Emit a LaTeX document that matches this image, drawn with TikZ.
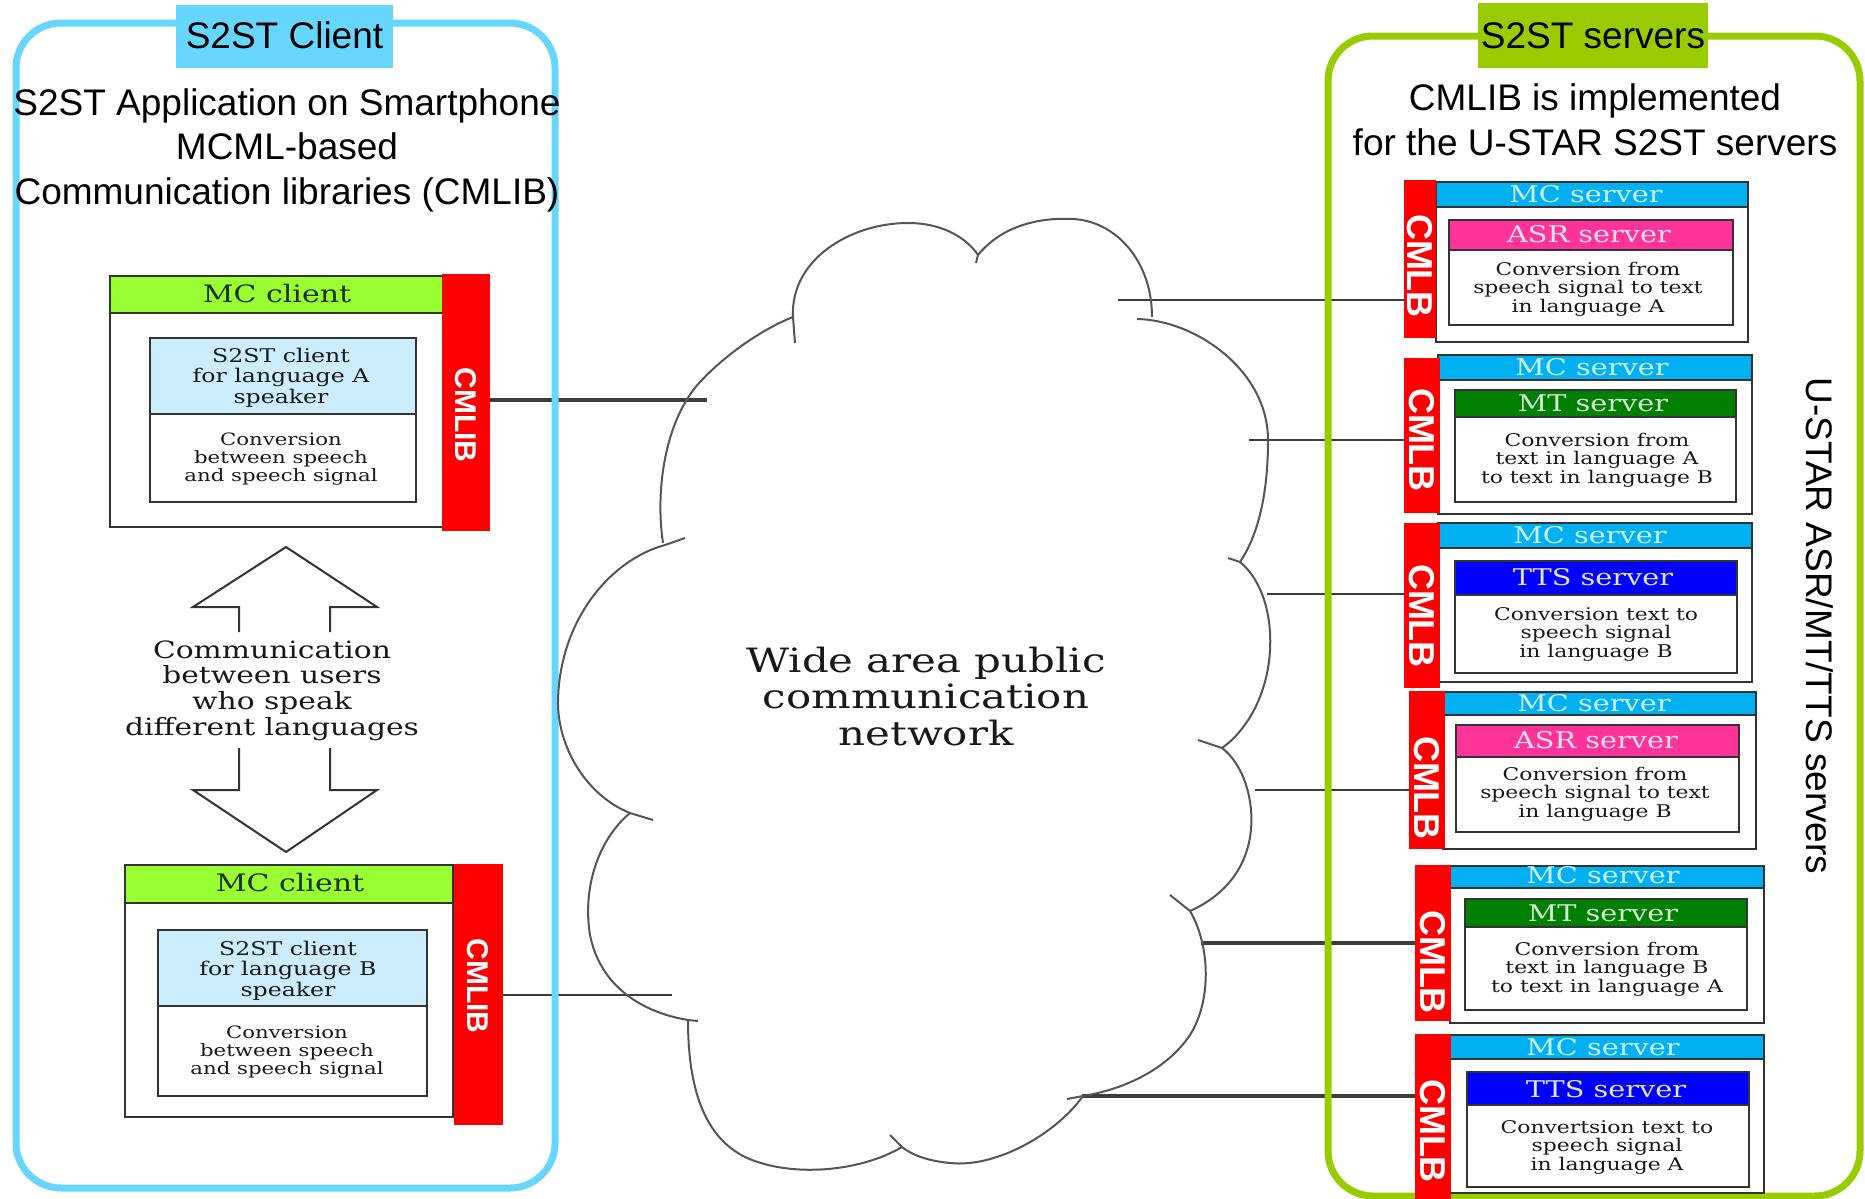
\documentclass[tikz,border=0pt]{standalone}
\usepackage{fontspec}
\setmainfont{Liberation Sans}
\newfontfamily\wser[FakeStretch=1.25]{DejaVu Serif}
\usetikzlibrary{fit}
\pgfdeclarelayer{bg}
\pgfdeclarelayer{wires}
\pgfsetlayers{bg,wires,main}
\definecolor{cliblue}{RGB}{102,214,255}
\definecolor{srvgreen}{RGB}{153,204,0}
\definecolor{limehdr}{RGB}{153,255,51}
\definecolor{paleblue}{RGB}{204,236,255}
\definecolor{mccyan}{RGB}{0,176,240}
\definecolor{asrpink}{RGB}{255,51,153}
\definecolor{mtgreen}{RGB}{0,128,0}
\definecolor{ttsblue}{RGB}{0,0,255}
\definecolor{edgegray}{RGB}{51,51,51}
\definecolor{cloudline}{RGB}{85,85,85}
\definecolor{wire}{RGB}{60,60,60}
\definecolor{mcclienttxt}{RGB}{30,50,0}
\definecolor{mcservertxt}{RGB}{205,240,255}
\definecolor{asrtxt}{RGB}{240,228,235}
\definecolor{mttxt}{RGB}{215,235,215}
\definecolor{ttstxt}{RGB}{228,228,215}
\definecolor{bodytxt}{RGB}{25,25,25}
\newcommand\fsz[2]{\fontsize{#1}{#2}\selectfont}
\newcommand\mlines[1]{\begin{tabular}[t]{@{}c@{}}#1\end{tabular}}
\tikzset{
  box/.style={draw=edgegray, line width=1.3pt, inner sep=0pt, fill=white},
  hdr/.style={draw=edgegray, line width=1.3pt, inner sep=0pt, fill=#1},
  redbar/.style={fill=red, inner sep=0pt},
  txt/.style={inner sep=0pt, anchor=base},
  bigsans/.style={txt, font=\fsz{18.5pt}{22.25pt}},
  cmlib/.style={rotate=-90, inner sep=0pt, text=white, font=\bfseries\fsz{15pt}{15pt}},
  cmlb/.style={rotate=-90, inner sep=0pt, text=white, font=\bfseries\fsz{18pt}{18pt}},
  mcclient/.style={txt, text=mcclienttxt, font=\wser\fsz{12pt}{12pt}},
  clienttxt/.style={txt, text=bodytxt, font=\wser\fsz{9.45pt}{10.25pt}},
  convtxt/.style={txt, text=bodytxt, font=\wser\fsz{8.5pt}{8.75pt}},
  mcserver/.style={txt, text=mcservertxt, font=\wser\fsz{11.5pt}{11.5pt}},
  engtxt/.style={txt, font=\wser\fsz{11.5pt}{11.5pt}},
  bodyserver/.style={txt, text=bodytxt, font=\wser\fsz{8.75pt}{9.25pt}},
  cloudpath/.style={draw=cloudline, line width=1pt},
  arrowline/.style={draw=edgegray, line width=1pt, line join=miter},
  conn/.style={draw=wire},
}
\begin{document}
\begin{tikzpicture}[x=0.5pt, y=-0.5pt]
\useasboundingbox (0,0) rectangle (1865,1199);
\begin{pgfonlayer}{bg}
\fill[white] (0,0) rectangle (1865,1199);
\end{pgfonlayer}

% ---------------- left container ----------------
\node[fit={(16,23) (555,1188)}, draw=cliblue, line width=3.5pt, rounded corners=22.5pt, inner sep=0pt] (client) {};
\node[fit={(176,5) (393,68)}, fill=cliblue, inner sep=0pt] (clienttitle) {};
\node[bigsans] (clienttitletxt) at (284.5,48) {S2ST Client};
\node[bigsans] (clientdesc) at (287,115) {\mlines{S2ST Application on Smartphone\\MCML-based\\Communication libraries (CMLIB)}};

% top MC client
\node[box, fit={(110,276) (443,527)}] (mc1) {};
\node[hdr=limehdr, fit={(110,276) (443,313)}] (mc1h) {};
\node[mcclient] (mc1t) at (277,302) {MC client};
\node[box, fit={(150,338) (416,502)}] (cl1) {};
\node[hdr=paleblue, fit={(150,338) (416,414)}] (cl1h) {};
\node[clienttxt] (cl1t) at (281,362) {\mlines{S2ST client\\for language A\\speaker}};
\node[convtxt] (cl1c) at (281,445) {\mlines{Conversion\\between speech\\and speech signal}};
\node[redbar, fit={(442,274) (490,531)}] (lb1) {};
\node[cmlib] (lb1t) at (466,415) {CMLIB};

% bottom MC client
\node[box, fit={(125,865) (453,1117)}] (mc2) {};
\node[hdr=limehdr, fit={(125,865) (453,903)}] (mc2h) {};
\node[mcclient] (mc2t) at (290,891) {MC client};
\node[box, fit={(158,930) (427,1096)}] (cl2) {};
\node[hdr=paleblue, fit={(158,930) (427,1006)}] (cl2h) {};
\node[clienttxt] (cl2t) at (288,955) {\mlines{S2ST client\\for language B\\speaker}};
\node[convtxt] (cl2c) at (287,1038) {\mlines{Conversion\\between speech\\and speech signal}};
\node[redbar, fit={(454,864) (503,1125)}] (lb2) {};
\node[cmlib] (lb2t) at (478,986) {CMLIB};

% double arrow
\draw[arrowline] (239,632) -- (239,607) -- (193,607) -- (286,547) -- (377,607) -- (330,607) -- (330,632);
\draw[arrowline] (239,748) -- (239,790) -- (193,790) -- (286,852) -- (377,790) -- (330,790) -- (330,748);
\node[txt, text=bodytxt, font=\wser\fsz{11.9pt}{12.85pt}] (comm) at (272,658) {\mlines{Communication\\between users\\who speak\\different languages}};

% ---------------- cloud ----------------
\draw[cloudpath] (795,343) -- (793,317) .. controls (790,260) and (850,223) .. (908,223) .. controls (945,223) and (968,240) .. (978,255) -- (976,263);
\draw[cloudpath] (978,255) .. controls (1000,228) and (1035,217) .. (1073,219) .. controls (1115,221) and (1152,260) .. (1152,317);
\draw[cloudpath] (1137,319) .. controls (1195,320) and (1268,370) .. (1268,440) .. controls (1268,495) and (1258,535) .. (1240,562);
\draw[cloudpath] (1228,558) -- (1240,562) .. controls (1262,580) and (1272,615) .. (1270,650) .. controls (1268,690) and (1250,728) .. (1222,748);
\draw[cloudpath] (1198,740) -- (1222,748) .. controls (1248,768) and (1258,815) .. (1247,850) .. controls (1238,880) and (1215,900) .. (1190,911);
\draw[cloudpath] (1170,895) -- (1190,911) .. controls (1210,945) and (1212,1000) .. (1190,1035) .. controls (1165,1072) and (1120,1090) .. (1083,1096) -- (1067,1099);
\draw[cloudpath] (1083,1096) .. controls (1055,1135) and (995,1168) .. (950,1163) .. controls (928,1161) and (912,1155) .. (902,1147) -- (890,1135);
\draw[cloudpath] (902,1147) .. controls (860,1172) and (790,1178) .. (745,1157) .. controls (705,1137) and (688,1090) .. (688,1020);
\draw[cloudpath] (698,1021) -- (688,1020) .. controls (640,1012) and (600,985) .. (590,935) .. controls (582,885) and (600,838) .. (630,813);
\draw[cloudpath] (653,820) -- (630,813) .. controls (585,795) and (557,745) .. (558,700) .. controls (560,620) and (610,560) .. (665,545) -- (685,538);
\draw[cloudpath] (663,543) .. controls (655,490) and (665,420) .. (700,382) .. controls (728,352) and (765,328) .. (793,317);
\node[txt, text=bodytxt, font=\wser\fsz{16.75pt}{18.25pt}] (net) at (926,672) {\mlines{Wide area public\\communication\\network}};

% ---------------- right container ----------------
\node[fit={(1328,36) (1860,1196)}, draw=srvgreen, line width=3.5pt, rounded corners=22.5pt, inner sep=0pt] (servers) {};
\node[fit={(1478,3) (1708,68)}, fill=srvgreen, inner sep=0pt] (serverstitle) {};
\node[bigsans] (serverstitletxt) at (1593,48) {S2ST servers};
\node[bigsans, font=\fsz{18.5pt}{22.5pt}] (serversdesc) at (1595,110) {\mlines{CMLIB is implemented\\for the U-STAR S2ST servers}};
\node[rotate=-90, inner sep=0pt, font=\fsz{18.5pt}{18.5pt}] (ustar) at (1820,626) {U-STAR ASR/MT/TTS servers};

% server 1
\node[box, fit={(1436,182) (1748,342)}] (mcs1) {};
\node[hdr=mccyan, fit={(1436,182) (1748,207)}] (mcs1h) {};
\node[mcserver] (mcs1t) at (1586,202) {MC server};
\node[box, fit={(1449,220) (1733,325)}] (eng1) {};
\node[hdr=asrpink, fit={(1449,220) (1733,250)}] (eng1h) {};
\node[engtxt, text=asrtxt] (eng1t) at (1589,242) {ASR server};
\node[bodyserver] (eng1b) at (1588,275) {\mlines{Conversion from\\speech signal to text\\in language A}};

% server 2
\node[box, fit={(1438,355) (1752,514)}] (mcs2) {};
\node[hdr=mccyan, fit={(1438,355) (1752,380)}] (mcs2h) {};
\node[mcserver] (mcs2t) at (1592,375) {MC server};
\node[box, fit={(1455,390) (1736,502)}] (eng2) {};
\node[hdr=mtgreen, fit={(1455,390) (1736,417)}] (eng2h) {};
\node[engtxt, text=mttxt] (eng2t) at (1593,411) {MT server};
\node[bodyserver] (eng2b) at (1597,446) {\mlines{Conversion from\\text in language A\\to text in language B}};

% server 3
\node[box, fit={(1438,523) (1752,682)}] (mcs3) {};
\node[hdr=mccyan, fit={(1438,523) (1752,548)}] (mcs3h) {};
\node[mcserver] (mcs3t) at (1590,543) {MC server};
\node[box, fit={(1455,561) (1737,673)}] (eng3) {};
\node[hdr=ttsblue, fit={(1455,561) (1737,595)}] (eng3h) {};
\node[engtxt, text=ttstxt] (eng3t) at (1593,585) {TTS server};
\node[bodyserver] (eng3b) at (1596,620) {\mlines{Conversion text to\\speech signal\\in language B}};

% server 4
\node[box, fit={(1443,692) (1756,849)}] (mcs4) {};
\node[hdr=mccyan, fit={(1443,692) (1756,715)}] (mcs4h) {};
\node[mcserver] (mcs4t) at (1594,711) {MC server};
\node[box, fit={(1456,725) (1739,832)}] (eng4) {};
\node[hdr=asrpink, fit={(1456,725) (1739,757)}] (eng4h) {};
\node[engtxt, text=asrtxt] (eng4t) at (1596,748) {ASR server};
\node[bodyserver] (eng4b) at (1595,780) {\mlines{Conversion from\\speech signal to text\\in language B}};

% server 5
\node[box, fit={(1450,866) (1764,1023)}] (mcs5) {};
\node[hdr=mccyan, fit={(1450,866) (1764,888)}] (mcs5h) {};
\node[mcserver] (mcs5t) at (1603,883) {MC server};
\node[box, fit={(1465,899) (1747,1010)}] (eng5) {};
\node[hdr=mtgreen, fit={(1465,899) (1747,927)}] (eng5h) {};
\node[engtxt, text=mttxt] (eng5t) at (1603,921) {MT server};
\node[bodyserver] (eng5b) at (1607,955) {\mlines{Conversion from\\text in language B\\to text in language A}};

% server 6
\node[box, fit={(1450,1035) (1764,1193)}] (mcs6) {};
\node[hdr=mccyan, fit={(1450,1035) (1764,1059)}] (mcs6h) {};
\node[mcserver] (mcs6t) at (1603,1055) {MC server};
\node[box, fit={(1467,1072) (1749,1187)}] (eng6) {};
\node[hdr=ttsblue, fit={(1467,1072) (1749,1105)}] (eng6h) {};
\node[engtxt, text=ttstxt] (eng6t) at (1606,1097) {TTS server};
\node[bodyserver] (eng6b) at (1607,1133) {\mlines{Convertsion text to\\speech signal\\in language A}};

% red CMLB bars
\node[redbar, fit={(1404,180) (1436,338)}] (rb1) {};
\node[cmlb] (rb1t) at (1420,266) {CMLB};
\node[redbar, fit={(1404,358) (1440,513)}] (rb2) {};
\node[cmlb] (rb2t) at (1422,440) {CMLB};
\node[redbar, fit={(1404,523) (1440,688)}] (rb3) {};
\node[cmlb] (rb3t) at (1422,616) {CMLB};
\node[redbar, fit={(1409,691) (1445,849)}] (rb4) {};
\node[cmlb] (rb4t) at (1427,788) {CMLB};
\node[redbar, fit={(1415,865) (1451,1021)}] (rb5) {};
\node[cmlb] (rb5t) at (1433,962) {CMLB};
\node[redbar, fit={(1415,1034) (1451,1199)}] (rb6) {};
\node[cmlb] (rb6t) at (1433,1131) {CMLB};

% ---------------- connectors ----------------
\coordinate (lc1) at (707,400);
\coordinate (lc2) at (672,995);
\coordinate (rc1) at (1118,300);
\coordinate (rc2) at (1249,440);
\coordinate (rc3) at (1267,594);
\coordinate (rc4) at (1255,790);
\coordinate (rc5) at (1201,943);
\coordinate (rc6) at (1082,1096);
\begin{pgfonlayer}{wires}
\draw[conn, line width=1.75pt] (lb1.east |- lc1) -- (lc1);
\draw[conn, line width=0.6pt] (lb2.east |- lc2) -- (lc2);
\draw[conn, line width=1.3pt] (rc1) -- (rc1 -| eng1.west);
\draw[conn, line width=0.8pt] (rc2) -- (rc2 -| eng2.west);
\draw[conn, line width=1pt] (rc3) -- (rc3 -| eng3.west);
\draw[conn, line width=0.8pt] (rc4) -- (rc4 -| eng4.west);
\draw[conn, line width=1.6pt] (rc5) -- (rc5 -| eng5.west);
\draw[conn, line width=1.6pt] (rc6) -- (rc6 -| eng6.west);
\end{pgfonlayer}
\end{tikzpicture}
\end{document}
